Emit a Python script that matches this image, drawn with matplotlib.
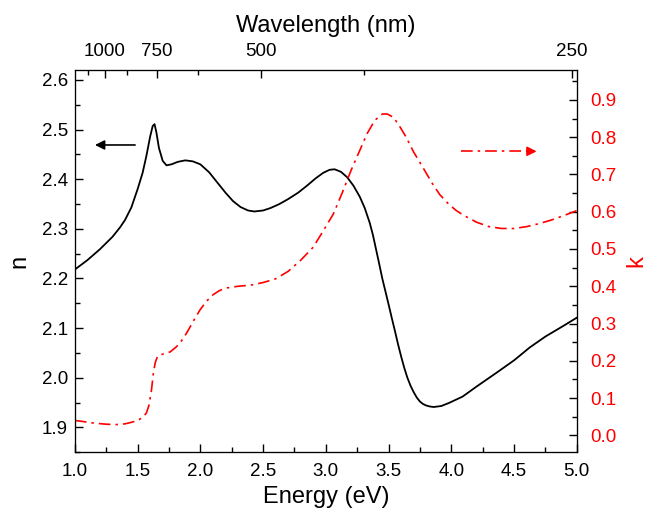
import numpy as np
import matplotlib
matplotlib.use('Agg')
import matplotlib.pyplot as plt
from matplotlib.ticker import MultipleLocator

plt.rcParams['font.family'] = ['Liberation Sans', 'DejaVu Sans']

# refractive index n (black solid)
energy_n = [1.00, 1.10, 1.20, 1.30, 1.36, 1.40, 1.45, 1.50, 1.54, 1.57, 1.60, 1.62,
            1.635, 1.65, 1.67, 1.70, 1.73, 1.77, 1.82, 1.88, 1.94, 2.00, 2.07, 2.13,
            2.20, 2.26, 2.32, 2.38, 2.43, 2.50, 2.56, 2.63, 2.70, 2.78, 2.85, 2.92,
            2.98, 3.03, 3.07, 3.12, 3.17, 3.22, 3.27, 3.31, 3.35, 3.375, 3.40, 3.425,
            3.45, 3.475, 3.50, 3.525, 3.55, 3.575, 3.60, 3.625, 3.65, 3.675, 3.70,
            3.725, 3.75, 3.775, 3.80, 3.83, 3.86, 3.92, 3.98, 4.09, 4.20, 4.36,
            4.50, 4.625, 4.75, 4.89, 5.00]
n_vals = [2.218, 2.237, 2.259, 2.284, 2.303, 2.318, 2.343, 2.380, 2.413, 2.447, 2.486, 2.507,
          2.511, 2.494, 2.463, 2.437, 2.428, 2.430, 2.435, 2.438, 2.436, 2.430, 2.414, 2.395,
          2.373, 2.356, 2.344, 2.337, 2.335, 2.337, 2.342, 2.350, 2.360, 2.373, 2.387, 2.402,
          2.413, 2.419, 2.420, 2.415, 2.404, 2.387, 2.365, 2.342, 2.312, 2.288, 2.259, 2.230,
          2.200, 2.174, 2.148, 2.121, 2.095, 2.068, 2.043, 2.020, 2.000, 1.984, 1.971,
          1.960, 1.952, 1.947, 1.944, 1.942, 1.941, 1.943, 1.949, 1.962, 1.982, 2.010,
          2.035, 2.061, 2.083, 2.104, 2.121]

# extinction coefficient k (red dash-dot)
energy_k = [1.00, 1.07, 1.15, 1.25, 1.33, 1.40, 1.45, 1.50, 1.54, 1.57, 1.59, 1.61,
            1.625, 1.64, 1.66, 1.70, 1.76, 1.81, 1.86, 1.90, 1.95, 2.00, 2.05, 2.10,
            2.15, 2.20, 2.30, 2.40, 2.50, 2.60, 2.70, 2.80, 2.90, 3.00, 3.06, 3.13,
            3.20, 3.27, 3.33, 3.39, 3.45, 3.49, 3.54, 3.59, 3.64, 3.70, 3.78, 3.85,
            3.91, 3.98, 4.04, 4.10, 4.20, 4.30, 4.40, 4.50, 4.60, 4.70, 4.80, 4.90, 5.00]
k_vals = [0.040, 0.037, 0.033, 0.030, 0.029, 0.031, 0.035, 0.040, 0.048, 0.060, 0.080, 0.120,
          0.165, 0.195, 0.213, 0.218, 0.224, 0.238, 0.258, 0.280, 0.310, 0.338, 0.360, 0.377,
          0.388, 0.395, 0.400, 0.403, 0.410, 0.420, 0.440, 0.470, 0.505, 0.560, 0.594, 0.650,
          0.710, 0.764, 0.810, 0.845, 0.862, 0.862, 0.853, 0.828, 0.800, 0.760, 0.715, 0.675,
          0.645, 0.620, 0.603, 0.590, 0.572, 0.560, 0.555, 0.555, 0.560, 0.568, 0.578, 0.590, 0.603]

wl_major = [1000, 750, 500, 250]
wl_minor = [1125, 875, 625, 375]
HC = 1239.84  # eV*nm

dashdot = (0, (7, 3, 1.5, 3))

fig = plt.figure(figsize=(6.51, 5.15), dpi=100)
ax = fig.add_axes([0.115, 0.122, 0.771, 0.742])
ax.plot(energy_n, n_vals, color='black', lw=1.3)
ax.set_xlim(1.0, 5.0)
ax.set_ylim(1.85, 2.62)
ax.xaxis.set_major_locator(MultipleLocator(0.5))
ax.xaxis.set_minor_locator(MultipleLocator(0.25))
ax.yaxis.set_minor_locator(MultipleLocator(0.05))
ax.set_xticklabels([f"{v:.1f}" for v in ax.get_xticks()])
ax.set_yticks(np.arange(1.9, 2.61, 0.1))
ax.set_yticklabels([f"{v:.1f}" for v in np.arange(1.9, 2.61, 0.1)])
ax.tick_params(which='both', direction='in', labelsize=13.5, top=False, right=False)
ax.tick_params(which='major', length=6, width=1)
ax.tick_params(which='minor', length=3.5, width=1)
ax.tick_params(axis='x', pad=8)
ax.tick_params(axis='y', pad=5)
ax.set_xlabel('Energy (eV)', fontsize=17, labelpad=4)
ax.set_ylabel('n', fontsize=17, labelpad=8)

# arrow pointing to the n axis
ax.annotate('', xy=(1.16, 2.469), xytext=(1.48, 2.469),
            arrowprops=dict(arrowstyle='-|>', color='black', lw=1.2,
                            mutation_scale=14, shrinkA=0, shrinkB=0))

ax2 = ax.twinx()
ax2.plot(energy_k, k_vals, color='red', lw=1.2, linestyle=dashdot)
ax2.set_ylim(-0.045, 0.98)
ax2.set_yticks(np.arange(0.0, 0.91, 0.1))
ax2.set_yticklabels([f"{v:.1f}" for v in np.arange(0.0, 0.91, 0.1)])
ax2.yaxis.set_minor_locator(MultipleLocator(0.05))
ax2.tick_params(which='both', direction='in', labelsize=13.5, labelcolor='red', pad=10)
ax2.tick_params(which='major', length=6, width=1)
ax2.tick_params(which='minor', length=3.5, width=1)
ax2.set_ylabel('k', fontsize=17, color='red', labelpad=6)

# arrow pointing to the k axis
ax2.plot([4.08, 4.62], [0.762, 0.762], color='red', lw=1.2, linestyle=dashdot)
ax2.annotate('', xy=(4.68, 0.762), xytext=(4.60, 0.762),
             arrowprops=dict(arrowstyle='-|>', color='red', lw=1.2,
                             mutation_scale=14, shrinkA=0, shrinkB=0))

# top wavelength axis
ax3 = ax.twiny()
ax3.set_xlim(ax.get_xlim())
ax3.set_xticks([HC / w for w in wl_major])
ax3.set_xticklabels([str(w) for w in wl_major])
ax3.set_xticks([HC / w for w in wl_minor], minor=True)
ax3.tick_params(which='both', direction='in', labelsize=13.5, pad=7)
ax3.tick_params(which='major', length=6, width=1)
ax3.tick_params(which='minor', length=3.5, width=1)
ax3.set_xlabel('Wavelength (nm)', fontsize=17, labelpad=8)

fig.savefig('out.png', dpi=100)
